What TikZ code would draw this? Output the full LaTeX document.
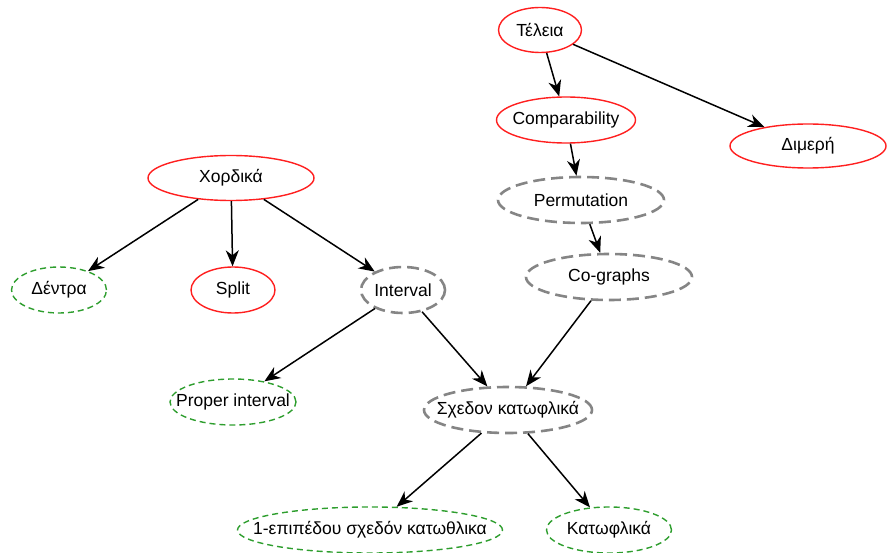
\documentclass[tikz,border=0pt]{standalone}
\usepackage{fontspec}
\setmainfont{Liberation Sans}
\usetikzlibrary{positioning}
\usetikzlibrary{shapes.geometric}
\usetikzlibrary{arrows.meta}
\definecolor{classRed}{HTML}{ff1f1f}
\definecolor{classGreen}{HTML}{2e9e2e}
\definecolor{classGray}{HTML}{858585}

\tikzset{
    classNode/.style={ellipse, inner xsep=-45pt, inner ysep=0pt, minimum height=46pt},
    knownClass/.style={classNode, draw=classRed, line width=1.4pt},
    greenClass/.style={classNode, draw=classGreen, line width=1.4pt, dash pattern=on 6pt off 4pt},
    grayClass/.style={classNode, draw=classGray, line width=2.6pt, dash pattern=on 12pt off 6pt},
    inclusion/.style={-{Stealth[length=16pt, width=13pt, inset=5pt]}, line width=1.5pt}
}

\begin{document}
\begin{tikzpicture}[font=\fontsize{17.5}{21}\selectfont]
    \useasboundingbox (0pt,0pt) rectangle (888pt,-553pt);

    % right tree
    \node [knownClass, minimum width=83pt, minimum height=45pt] (teleia) at (540pt,-30pt) {Τέλεια};
    \node [knownClass, minimum width=139pt, below right=90pt and 26pt of teleia.center, anchor=center] (comparability) {Comparability};
    \node [knownClass, minimum width=156pt, minimum height=44pt, below right=116pt and 268pt of teleia.center, anchor=center] (dimeri) {Διμερή};
    \node [grayClass, minimum width=166pt, below right=80pt and 15pt of comparability.center, anchor=center] (permutation) {Permutation};
    \node [grayClass, minimum width=166pt, below right=77pt and 28pt of permutation.center, anchor=center] (cographs) {Co-graphs};

    % left tree
    \node [knownClass, minimum width=166pt, minimum height=45pt] (xordika) at (231pt,-178pt) {Χορδικά};
    \node [greenClass, minimum width=95pt, below left=112pt and 172pt of xordika.center, anchor=center] (dentra) {Δέντρα};
    \node [knownClass, minimum width=84pt, below right=112pt and 2pt of xordika.center, anchor=center] (split) {Split};
    \node [grayClass, minimum width=84pt, below right=112pt and 172pt of xordika.center, anchor=center] (interval) {Interval};
    \node [greenClass, minimum width=126pt, below left=112pt and 170pt of interval.center, anchor=center] (properInterval) {Proper interval};
    \node [grayClass, minimum width=168pt, below right=120pt and 105pt of interval.center, anchor=center] (sxedonKatofl) {Σχεδον κατωφλικά};
    \node [greenClass, minimum width=265pt, below left=120pt and 138pt of sxedonKatofl.center, anchor=center] (epipedou) {1-επιπέδου σχεδόν κατωθλικα};
    \node [greenClass, minimum width=125pt, below right=120pt and 101pt of sxedonKatofl.center, anchor=center] (katoflika) {Κατωφλικά};

    \draw [inclusion] (teleia) -- (comparability);
    \draw [inclusion] (teleia) -- (dimeri);
    \draw [inclusion] (comparability) -- (permutation);
    \draw [inclusion] (permutation) -- (cographs);
    \draw [inclusion] (cographs) -- (sxedonKatofl);

    \draw [inclusion] (xordika) -- (dentra);
    \draw [inclusion] (xordika) -- (split);
    \draw [inclusion] (xordika) -- (interval);
    \draw [inclusion] (interval) -- (properInterval);
    \draw [inclusion] (interval) -- (sxedonKatofl);
    \draw [inclusion] (sxedonKatofl) -- (epipedou);
    \draw [inclusion] (sxedonKatofl) -- (katoflika);

\end{tikzpicture}
\end{document}
